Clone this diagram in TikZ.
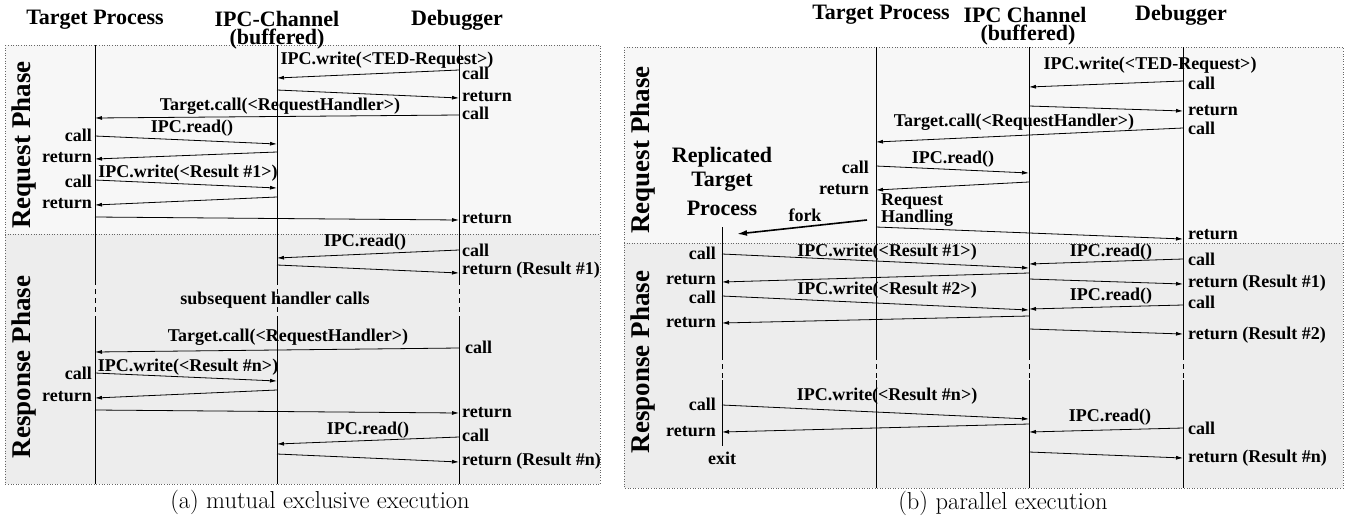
\documentclass[tikz,border=0pt]{standalone}
\usepackage{fontspec}
\setmainfont{Liberation Serif}
\newfontfamily\capfont{Latin Modern Roman}
\usetikzlibrary{arrows.meta}

% one message arrow between two named end points
\newcommand\msgline[3]{%
  \coordinate (#1s) at (#2);
  \coordinate (#1e) at (#3);
  \draw[msg] (#1s) -- (#1e);}

\tikzset{
  lbl/.style={font=\bfseries\fontsize{18}{18}\selectfont, inner sep=0pt},
  hdr/.style={font=\bfseries\fontsize{22}{22}\selectfont, inner sep=0pt},
  phase/.style={font=\bfseries\fontsize{27}{27}\selectfont, inner sep=0pt, rotate=90},
  capt/.style={font=\capfont\fontsize{24.5}{24.5}\selectfont, inner sep=0pt},
  msg/.style={line width=0.8pt, -{Latex[length=7pt,width=4pt]}},
  life/.style={line width=0.8pt},
  lifedash/.style={line width=0.8pt, dash pattern=on 5pt off 4pt},
  frame/.style={dotted, draw=black!60, line width=0.6pt},
  reqbg/.style={fill=black!3},
  resbg/.style={fill=black!7},
}

\begin{document}
\begin{tikzpicture}[x=1pt, y=-1pt]
\useasboundingbox (0,0) rectangle (1349,520);

% ---------------- (a) mutual exclusive execution ----------------
\fill[reqbg] (5,45) rectangle (600,234);
\fill[resbg] (5,234) rectangle (600,484);
\draw[frame] (5,45) rectangle (600,484);
\draw[frame] (5,234) -- (600,234);

\node[hdr] (aTP) at (95,20) {Target Process};
\node[hdr] (aIPC) at (277,19) {IPC-Channel};
\node[hdr] (aBuf) at (277,39) {(buffered)};
\node[hdr] (aDbg) at (457,20) {Debugger};

\node[phase] (aReq) at (24,145) {Request Phase};
\node[phase] (aRes) at (24,367) {Response Phase};

% lifelines
\foreach \x/\n in {95/tp, 277/ipc, 459/dbg}{
  \coordinate (a\n top) at (\x,45);
  \coordinate (a\n d1) at (\x,280);
  \coordinate (a\n d2) at (\x,318);
  \coordinate (a\n bot) at (\x,484);
  \draw[life] (a\n top) -- (a\n d1);
  \draw[lifedash] (a\n d1) -- (a\n d2);
  \draw[life] (a\n d2) -- (a\n bot);
}

% request phase
\msgline{a1}{459,70}{277,78}
\msgline{a2}{277,90}{459,98}
\msgline{a3}{459,115}{95,118}
\msgline{a4}{95,136}{277,144}
\msgline{a5}{277,152}{95,159}
\msgline{a6}{95,180}{277,188}
\msgline{a7}{277,197}{95,205}
\msgline{a8}{95,217}{459,220}

\node[lbl] (t1) at (387,60) {IPC.write(<TED-Request>)};
\node[lbl, anchor=west] (t2) at (462,73) {call};
\node[lbl, anchor=west] (t3) at (462,97) {return};
\node[lbl] (t4) at (280,106) {Target.call(<RequestHandler>)};
\node[lbl, anchor=west] (t5) at (462,113) {call};
\node[lbl, anchor=east] (t6) at (92,135) {call};
\node[lbl] (t7) at (192,128) {IPC.read()};
\node[lbl, anchor=east] (t8) at (92,158) {return};
\node[lbl] (t9) at (188,173) {IPC.write(<Result \#1>)};
\node[lbl, anchor=east] (t10) at (92,181) {call};
\node[lbl, anchor=east] (t11) at (92,204) {return};
\node[lbl, anchor=west] (t12) at (462,219) {return};

% response phase
\msgline{a9}{459,250}{277,258}
\msgline{a10}{277,265}{459,273}
\msgline{a11}{459,348}{95,352}
\msgline{a12}{95,373}{277,381}
\msgline{a13}{277,390}{95,398}
\msgline{a14}{95,410}{459,413}
\msgline{a15}{459,437}{277,444}
\msgline{a16}{277,454}{459,462}

\node[lbl] (t13) at (365,242) {IPC.read()};
\node[lbl, anchor=west] (t14) at (462,250) {call};
\node[lbl, anchor=west] (t15) at (462,270) {return (Result \#1)};
\node[lbl] (t16) at (275,300) {subsequent handler calls};
\node[lbl] (t17) at (288,337) {Target.call(<RequestHandler>)};
\node[lbl, anchor=west] (t18) at (465,347) {call};
\node[lbl] (t19) at (188,367) {IPC.write(<Result \#n>)};
\node[lbl, anchor=east] (t20) at (92,373) {call};
\node[lbl, anchor=east] (t21) at (92,397) {return};
\node[lbl, anchor=west] (t22) at (462,413) {return};
\node[lbl] (t23) at (368,430) {IPC.read()};
\node[lbl, anchor=west] (t24) at (462,435) {call};
\node[lbl, anchor=west] (t25) at (462,461) {return (Result \#n)};

\node[capt] (capA) at (320,502) {(a) mutual exclusive execution};

% ---------------- (b) parallel execution ----------------
\fill[reqbg] (624,47) rectangle (1343,243);
\fill[resbg] (624,243) rectangle (1343,488);
\draw[frame] (624,47) rectangle (1343,488);
\draw[frame] (624,243) -- (1343,243);

\node[hdr] (bTP) at (881,15) {Target Process};
\node[hdr] (bIPC) at (1025,15) {IPC Channel};
\node[hdr] (bBuf) at (1028,35) {(buffered)};
\node[hdr] (bDbg) at (1181,15) {Debugger};

\node[phase] (bReq) at (643,150) {Request Phase};
\node[phase] (bRes) at (643,362) {Response Phase};

% lifelines
\foreach \x/\n in {876/tp, 1029/ipc, 1183/dbg}{
  \coordinate (b\n top) at (\x,47);
  \coordinate (b\n d1) at (\x,355);
  \coordinate (b\n d2) at (\x,380);
  \coordinate (b\n bot) at (\x,488);
  \draw[life] (b\n top) -- (b\n d1);
  \draw[lifedash] (b\n d1) -- (b\n d2);
  \draw[life] (b\n d2) -- (b\n bot);
}
\coordinate (brtop) at (722,227);
\coordinate (brd1) at (722,355);
\coordinate (brd2) at (722,380);
\coordinate (brbot) at (722,446);
\draw[life] (brtop) -- (brd1);
\draw[lifedash] (brd1) -- (brd2);
\draw[life] (brd2) -- (brbot);

% request phase
\msgline{r1}{1183,81}{1029,87}
\msgline{r2}{1029,106}{1183,111}
\msgline{r3}{1183,128}{876,142}
\msgline{r4}{876,166}{1029,173}
\msgline{r5}{1029,182}{876,190}
\msgline{r6}{876,227}{1183,239}

\node[lbl] (u1) at (1150,65) {IPC.write(<TED-Request>)};
\node[lbl, anchor=west] (u2) at (1188,83) {call};
\node[lbl, anchor=west] (u3) at (1188,111) {return};
\node[lbl] (u4) at (1014,122) {Target.call(<RequestHandler>)};
\node[lbl, anchor=west] (u5) at (1188,128) {call};
\node[lbl] (u6) at (953,159) {IPC.read()};
\node[lbl, anchor=east] (u7) at (869,167) {call};
\node[lbl, anchor=east] (u8) at (869,190) {return};
\node[lbl, anchor=west] (u9) at (881,202) {Request};
\node[lbl, anchor=west] (u10) at (881,218) {Handling};
\node[lbl, anchor=west] (u11) at (1188,235) {return};

\node[hdr] (rep1) at (722,157) {Replicated};
\node[hdr] (rep2) at (722,182) {Target};
\node[hdr] (rep3) at (722,208) {Process};
\node[lbl] (fork) at (805,215) {fork};
\coordinate (forks) at (867,220);
\coordinate (forke) at (737,234);
\draw[line width=1.6pt, -{Latex[length=10pt,width=6pt]}] (forks) -- (forke);

% response phase
\msgline{s1}{722,254}{1029,268}
\msgline{s2}{1183,259}{1029,264}
\msgline{s3}{1029,273}{722,282}
\msgline{s4}{1029,279}{1183,284}
\msgline{s5}{722,296}{1029,310}
\msgline{s6}{1183,305}{1029,309}
\msgline{s7}{1029,316}{722,323}
\msgline{s8}{1029,329}{1183,334}
\msgline{s9}{722,405}{1029,419}
\msgline{s10}{1029,424}{722,432}
\msgline{s11}{1183,428}{1029,432}
\msgline{s12}{1029,452}{1183,458}

\node[lbl] (v1) at (887,252) {IPC.write(<Result \#1>)};
\node[lbl, anchor=east] (v2) at (716,253) {call};
\node[lbl] (v3) at (1111,252) {IPC.read()};
\node[lbl, anchor=west] (v4) at (1188,259) {call};
\node[lbl, anchor=east] (v5) at (716,280) {return};
\node[lbl, anchor=west] (v6) at (1188,283) {return (Result \#1)};
\node[lbl] (v7) at (887,290) {IPC.write(<Result \#2>)};
\node[lbl, anchor=east] (v8) at (716,297) {call};
\node[lbl] (v9) at (1111,296) {IPC.read()};
\node[lbl, anchor=west] (v10) at (1188,302) {call};
\node[lbl, anchor=east] (v11) at (716,323) {return};
\node[lbl, anchor=west] (v12) at (1188,335) {return (Result \#2)};
\node[lbl] (v13) at (887,396) {IPC.write(<Result \#n>)};
\node[lbl, anchor=east] (v14) at (716,404) {call};
\node[lbl] (v15) at (1110,417) {IPC.read()};
\node[lbl, anchor=west] (v16) at (1188,428) {call};
\node[lbl, anchor=east] (v17) at (716,432) {return};
\node[lbl] (v18) at (722,458) {exit};
\node[lbl, anchor=west] (v19) at (1188,458) {return (Result \#n)};

\node[capt] (capB) at (1003,503) {(b) parallel execution};
\end{tikzpicture}
\end{document}
